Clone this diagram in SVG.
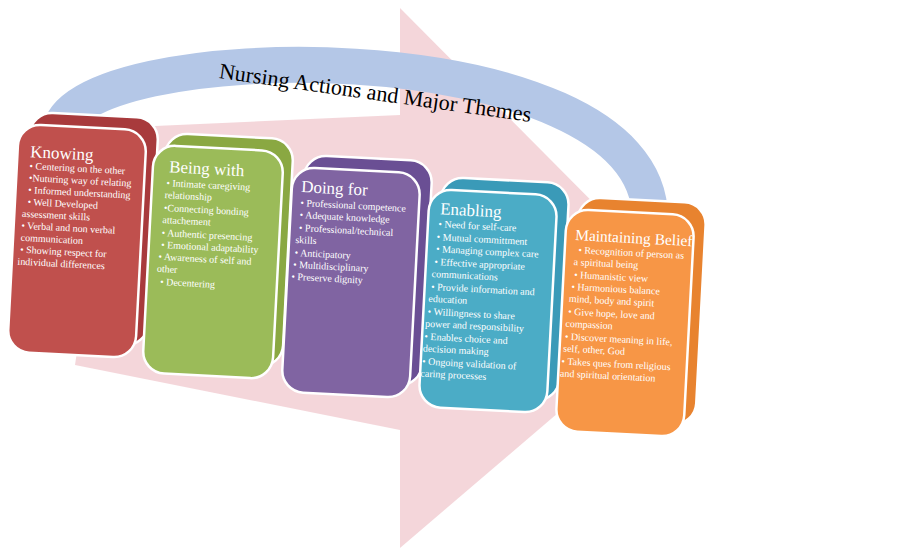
<svg xmlns="http://www.w3.org/2000/svg" width="902" height="553" viewBox="0 0 902 553">
<style>
.t{font-family:"Liberation Serif",serif;fill:#fff;font-size:10px}
.h{font-family:"Liberation Serif",serif;fill:#fff;font-size:17px}
.f{stroke:#fff;stroke-width:2.5}
</style>
<rect width="902" height="553" fill="#fff"/>
<g id="arrow">
<path d="M110,128 L400,115 L400,8 L690,300 L400,548 L400,430 L75,365 Z" fill="#f0c8cd" opacity="0.75"/>
</g>
<g id="arc">
<path d="M60,135 C60,35 650,25 650,218" fill="none" stroke="#b4c7e7" stroke-width="36"/>
<text x="375" y="100" transform="rotate(8 375 95)" text-anchor="middle" style="font-family:'Liberation Serif',serif;font-size:22px;fill:#000">Nursing Actions and Major Themes</text>
</g>
<g id="knowing">
<rect x="25" y="115" width="128" height="228" rx="22" fill="#a83a3c" class="f" transform="rotate(3 89 229)"/>
<rect x="13" y="127" width="128" height="228" rx="22" fill="#c0504d" class="f" transform="rotate(3 77 241)"/>
<g transform="translate(5,0) rotate(3 22 157)">
<text class="h" x="25" y="157">Knowing</text>
<text class="t" x="25" y="169">• Centering on the other</text>
<text class="t" x="25" y="181">•Nuturing way of relating</text>
<text class="t" x="25" y="193">• Informed understanding</text>
<text class="t" x="25" y="205">• Well Developed</text>
<text class="t" x="20" y="217">assessment skills</text>
<text class="t" x="20" y="229">• Verbal and non verbal</text>
<text class="t" x="20" y="241">communication</text>
<text class="t" x="20" y="253">• Showing respect for</text>
<text class="t" x="18" y="265">individual differences</text>
</g>
</g>
<g id="being">
<rect x="160" y="136" width="128" height="228" rx="22" fill="#8aa842" class="f" transform="rotate(3 224 250)"/>
<rect x="148" y="148" width="130" height="228" rx="22" fill="#9bbb59" class="f" transform="rotate(3 213 262)"/>
<g transform="translate(4,0) rotate(3 160 170)">
<text class="h" x="165" y="172">Being with</text>
<text class="t" x="163" y="186">• Intimate caregiving</text>
<text class="t" x="162" y="198">relationship</text>
<text class="t" x="162" y="211">•Connecting bonding</text>
<text class="t" x="161" y="223">attachement</text>
<text class="t" x="161" y="236">• Authentic presencing</text>
<text class="t" x="161" y="248">• Emotional adaptability</text>
<text class="t" x="159" y="260">• Awareness of self and</text>
<text class="t" x="158" y="272">other</text>
<text class="t" x="162" y="285">• Decentering</text>
</g>
</g>
<g id="doing">
<rect x="299" y="158" width="128" height="225" rx="22" fill="#6a4f94" class="f" transform="rotate(3 363 270)"/>
<rect x="287" y="170" width="128" height="225" rx="22" fill="#8064a2" class="f" transform="rotate(3 351 282)"/>
<g transform="translate(4,0) rotate(3 295 190)">
<text class="h" x="297" y="192">Doing for</text>
<text class="t" x="297" y="206">• Professional competence</text>
<text class="t" x="297" y="218">• Adequate knowledge</text>
<text class="t" x="297" y="231">• Professional/technical</text>
<text class="t" x="294" y="243">skills</text>
<text class="t" x="294" y="256">• Anticipatory</text>
<text class="t" x="293" y="268">• Multidisciplinary</text>
<text class="t" x="292" y="280">• Preserve dignity</text>
</g>
</g>
<g id="enabling">
<rect x="436" y="180" width="128" height="218" rx="22" fill="#3a9ab8" class="f" transform="rotate(3 500 289)"/>
<rect x="424" y="192" width="128" height="218" rx="22" fill="#4bacc6" class="f" transform="rotate(3 488 301)"/>
<g transform="translate(5,0) rotate(3 430 212)">
<text class="h" x="435" y="214">Enabling</text>
<text class="t" x="434" y="227">• Need for self-care</text>
<text class="t" x="433" y="240">• Mutual committment</text>
<text class="t" x="433" y="252">• Managing complex care</text>
<text class="t" x="432" y="265">• Effective appropriate</text>
<text class="t" x="430" y="277">communications</text>
<text class="t" x="430" y="290">• Provide information and</text>
<text class="t" x="428" y="302">education</text>
<text class="t" x="428" y="315">• Willingness to share</text>
<text class="t" x="426" y="327">power and responsibility</text>
<text class="t" x="426" y="340">• Enables choice and</text>
<text class="t" x="425" y="352">decision making</text>
<text class="t" x="425" y="365">• Ongoing validation of</text>
<text class="t" x="424" y="377">caring processes</text>
</g>
</g>
<g id="maintaining">
<rect x="573" y="200" width="128" height="222" rx="22" fill="#e8832f" class="f" transform="rotate(3 637 311)"/>
<rect x="561" y="212" width="128" height="222" rx="22" fill="#f79646" class="f" transform="rotate(3 625 323)"/>
<g transform="translate(4,0) rotate(3 570 238)">
<text class="h" x="571" y="240" style="font-size:15.5px">Maintaining Belief</text>
<text class="t" x="575" y="253">• Recognition of person as</text>
<text class="t" x="571" y="265">a spiritual being</text>
<text class="t" x="572" y="278">• Humanistic view</text>
<text class="t" x="570" y="290">• Harmonious balance</text>
<text class="t" x="568" y="302">mind, body and spirit</text>
<text class="t" x="568" y="315">• Give hope, love and</text>
<text class="t" x="566" y="327">compassion</text>
<text class="t" x="566" y="340">• Discover meaning in life,</text>
<text class="t" x="565" y="352">self, other, God</text>
<text class="t" x="564" y="365">• Takes ques from religious</text>
<text class="t" x="563" y="377">and spiritual orientation</text>
</g>
</g>
</svg>
